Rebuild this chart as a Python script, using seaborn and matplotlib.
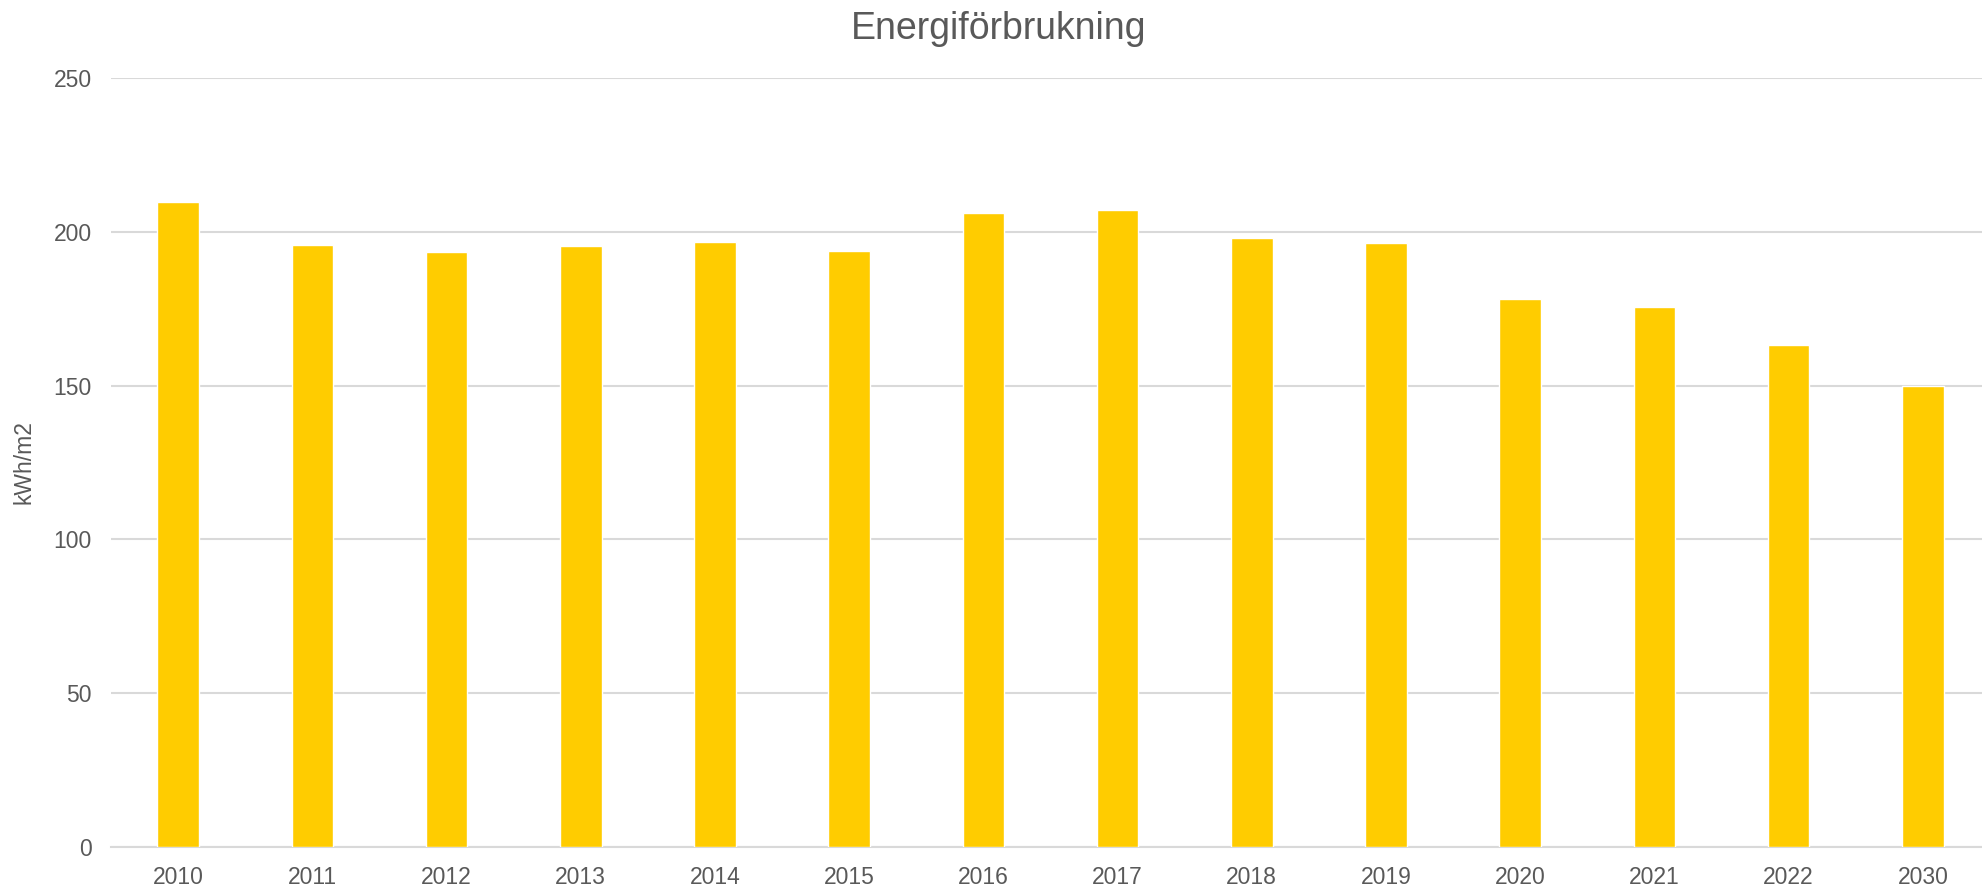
import pandas as pd
import matplotlib
matplotlib.use("Agg")
import matplotlib.pyplot as plt
import seaborn as sns

years = ["2010", "2011", "2012", "2013", "2014", "2015", "2016",
         "2017", "2018", "2019", "2020", "2021", "2022", "2030"]
kwh_m2 = [209.8, 195.7, 193.5, 195.3, 196.7, 193.7, 206.1,
          207.1, 198.0, 196.2, 178.0, 175.5, 163.3, 150.0]

df = pd.DataFrame({"year": years, "kwh": kwh_m2})

sns.set_theme(style="white")
plt.rcParams["font.family"] = ["Liberation Sans", "DejaVu Sans"]

text_color = "#595959"
grid_color = "#D9D9D9"

fig = plt.figure(figsize=(19.82, 8.91), dpi=100)
ax = fig.add_axes([0.056, 0.0494, 0.948, 0.8631])

sns.barplot(data=df, x="year", y="kwh", color="#FFCC00", width=0.31,
            saturation=1, ax=ax, zorder=3)

ax.set_ylim(0, 250)
ax.set_yticks([0, 50, 100, 150, 200, 250])
ax.set_xlim(-0.5, len(years) - 0.5)
ax.grid(axis="y", color=grid_color, linewidth=1.5, zorder=0)
ax.set_axisbelow(True)
for side in ["top", "right", "left"]:
    ax.spines[side].set_visible(False)
ax.spines["bottom"].set_color(grid_color)
ax.spines["bottom"].set_linewidth(1.5)

ax.tick_params(axis="both", length=0, labelsize=16.5, labelcolor=text_color)
ax.tick_params(axis="y", pad=14)
ax.tick_params(axis="x", pad=14)
ax.set_xlabel("")
ax.set_ylabel("kWh/m2", fontsize=16.5, color=text_color)
ax.yaxis.set_label_coords(-0.04, 0.5)

fig.suptitle("Energiförbrukning", fontsize=27, color=text_color, x=0.504, y=0.988)

fig.savefig("out.png", dpi=100)
